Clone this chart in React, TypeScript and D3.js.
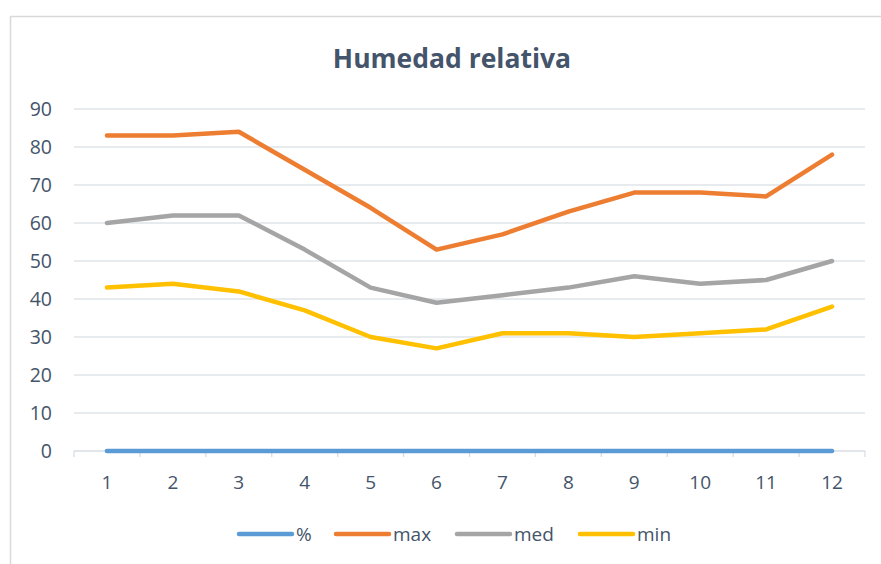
import React, { useEffect, useRef } from "react";
import * as d3 from "d3";

// months 1..12
const months = ["1", "2", "3", "4", "5", "6", "7", "8", "9", "10", "11", "12"];
const pct = [0, 0, 0, 0, 0, 0, 0, 0, 0, 0, 0, 0];
const maxVals = [83, 83, 84, 74, 64, 53, 57, 63, 68, 68, 67, 78];
const medVals = [60, 62, 62, 53, 43, 39, 41, 43, 46, 44, 45, 50];
const minVals = [43, 44, 42, 37, 30, 27, 31, 31, 30, 31, 32, 38];
const yTicks = [0, 10, 20, 30, 40, 50, 60, 70, 80, 90];

const series = [
  { name: "%", values: pct, color: "#5b9bd5" },
  { name: "max", values: maxVals, color: "#ed7d31" },
  { name: "med", values: medVals, color: "#a5a5a5" },
  { name: "min", values: minVals, color: "#ffc000" },
];

const W = 881;
const H = 564;
const FONT = "'Open Sans', sans-serif";
const TEXT = "#44546a";

export default function App() {
  const svgRef = useRef<SVGSVGElement | null>(null);

  useEffect(() => {
    if (!svgRef.current) return;
    const svg = d3.select(svgRef.current);
    svg.selectAll("*").remove();

    const margin = { top: 109, right: 16, bottom: 113, left: 74 };
    const plotW = W - margin.left - margin.right;
    const plotH = H - margin.top - margin.bottom;

    svg.append("rect").attr("width", W).attr("height", H).attr("fill", "#fff");

    // chart border
    svg
      .append("rect")
      .attr("x", 10.5)
      .attr("y", 16.5)
      .attr("width", W)
      .attr("height", H)
      .attr("fill", "none")
      .attr("stroke", "#d9d9d9")
      .attr("stroke-width", 1.5);

    svg
      .append("text")
      .attr("x", 452)
      .attr("y", 68)
      .attr("text-anchor", "middle")
      .attr("fill", TEXT)
      .attr("font-family", FONT)
      .attr("font-size", "26.5px")
      .attr("font-weight", "bold")
      .text("Humedad relativa");

    const g = svg.append("g").attr("transform", `translate(${margin.left},${margin.top})`);

    const x = d3.scaleBand().domain(months).range([0, plotW]);
    const y = d3.scaleLinear().domain([0, 90]).range([plotH, 0]);

    // gridlines
    g.selectAll(".grid")
      .data(yTicks.filter((t) => t > 0))
      .join("line")
      .attr("x1", 0)
      .attr("x2", plotW)
      .attr("y1", (d) => y(d))
      .attr("y2", (d) => y(d))
      .attr("stroke", "#e1e4e8")
      .attr("stroke-width", 1.3);

    // x axis line + ticks at category boundaries
    g.append("line")
      .attr("x1", 0)
      .attr("x2", plotW)
      .attr("y1", plotH)
      .attr("y2", plotH)
      .attr("stroke", "#d9dde3")
      .attr("stroke-width", 1.3);
    const bounds = months.map((m) => x(m) as number).concat([plotW]);
    g.selectAll(".tick")
      .data(bounds)
      .join("line")
      .attr("x1", (d) => d)
      .attr("x2", (d) => d)
      .attr("y1", plotH)
      .attr("y2", plotH + 6)
      .attr("stroke", "#d9dde3")
      .attr("stroke-width", 1.3);

    g.selectAll(".ylab")
      .data(yTicks)
      .join("text")
      .attr("x", -22)
      .attr("y", (d) => y(d))
      .attr("dy", "0.35em")
      .attr("text-anchor", "end")
      .attr("fill", TEXT)
      .attr("font-family", FONT)
      .attr("font-size", "19.5px")
      .text((d) => d);

    g.selectAll(".xlab")
      .data(months)
      .join("text")
      .attr("x", (d) => (x(d) as number) + x.bandwidth() / 2)
      .attr("y", plotH + 38)
      .attr("text-anchor", "middle")
      .attr("fill", TEXT)
      .attr("font-family", FONT)
      .attr("font-size", "19px")
      .text((d) => d);

    const line = d3
      .line<number>()
      .x((_, i) => (x(months[i]) as number) + x.bandwidth() / 2)
      .y((d) => y(d));

    series.forEach((s) => {
      g.append("path")
        .datum(s.values)
        .attr("fill", "none")
        .attr("stroke", s.color)
        .attr("stroke-width", 4.5)
        .attr("stroke-linecap", "round")
        .attr("stroke-linejoin", "round")
        .attr("d", line);
    });

    // legend
    const legendX = [239, 336, 457, 580];
    const ly = 534;
    series.forEach((s, i) => {
      svg
        .append("line")
        .attr("x1", legendX[i])
        .attr("x2", legendX[i] + 53)
        .attr("y1", ly)
        .attr("y2", ly)
        .attr("stroke", s.color)
        .attr("stroke-width", 4.5)
        .attr("stroke-linecap", "round");
      svg
        .append("text")
        .attr("x", legendX[i] + 57)
        .attr("y", ly)
        .attr("dy", "0.35em")
        .attr("fill", TEXT)
        .attr("font-family", FONT)
        .attr("font-size", "19px")
        .text(s.name);
    });
  }, []);

  return (
    <div style={{ position: "absolute", left: 0, top: 0 }}>
      <svg ref={svgRef} width={W} height={H} style={{ display: "block" }} />
    </div>
  );
}
